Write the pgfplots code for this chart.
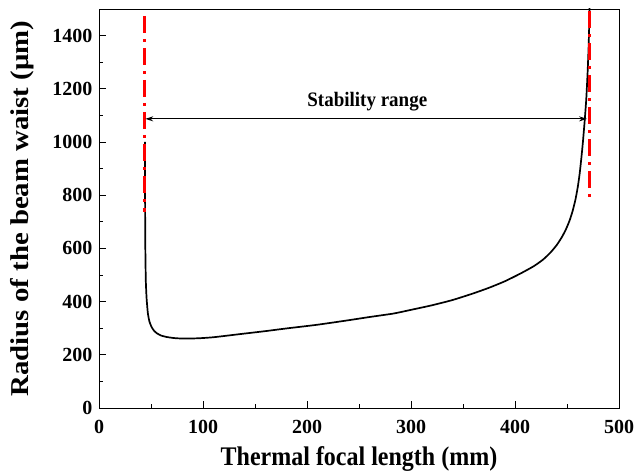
\documentclass[border=0pt]{standalone}
\usepackage{fontspec}
\setmainfont{Liberation Serif}
\usepackage{pgfplots}
\pgfplotsset{compat=1.18}
\usetikzlibrary{arrows.meta}
\begin{document}
\begin{tikzpicture}
\begin{axis}[
  scale only axis,
  width=520pt, height=399pt,
  xmin=0, xmax=500, ymin=0, ymax=1500,
  xtick={0,100,...,500},
  ytick={0,200,...,1400},
  minor tick num=1,
  xtick pos=bottom, ytick pos=left,
  tick align=inside,
  major tick length=7pt, minor tick length=4pt,
  axis line style={line width=0.9pt},
  every tick/.style={line width=0.9pt, black},
  tick label style={font=\fontsize{20}{22}\selectfont\bfseries},
  xticklabel style={yshift=-9pt},
  yticklabel style={xshift=-3pt},
  /pgf/number format/assume math mode=true,
  /pgf/number format/1000 sep={},
  xlabel={Thermal focal length (mm)},
  ylabel={Radius of the beam waist (μm)},
  label style={font=\fontsize{24}{26}\selectfont\bfseries},
  xlabel style={at={(axis description cs:0.5,0)}, anchor=center, yshift=-51pt, yscale=1.12},
  ylabel style={at={(axis description cs:0,0.5)}, anchor=center, yshift=77pt, xscale=1.2, yscale=1.07},
  clip=true,
]
\addplot[black, line width=1.7pt, smooth, tension=0.35] coordinates {
(44.2,1000) (44.3,800) (44.5,620) (45.0,480) (45.8,410) (47.0,356) (48.5,325)
(50.5,305) (53.0,290) (56.0,280) (60.0,272) (65.0,267) (72.0,263) (81.0,261)
(95.0,262) (110.0,266) (136.0,278) (160.0,289) (180.0,299) (210.0,313)
(240.0,330) (260.0,342) (283.0,355) (300.0,369) (320.0,386) (340.0,406)
(360.0,431) (375.0,452) (390.0,476) (405.0,505) (418.0,533) (427.0,558)
(434.0,584) (440.0,612) (445.0,642) (449.0,672) (452.5,705) (455.5,742)
(458.2,785) (460.4,832) (462.2,882) (463.8,940) (465.3,1000) (467.0,1080)
(468.5,1160) (469.8,1260) (470.8,1360) (471.5,1460) (471.8,1520)
};
\addplot[red, line width=3pt, dash pattern=on 17pt off 6pt on 3pt off 6pt] coordinates {(44.2,1474) (44.2,735)};
\addplot[red, line width=3pt, dash pattern=on 17pt off 6pt on 3pt off 6pt] coordinates {(471.6,1492) (471.6,772)};
\addplot[black, line width=1pt, {Stealth[length=8pt,width=5pt]}-{Stealth[length=8pt,width=5pt]}] coordinates {(44.5,1087) (469.3,1087)};
\node[font=\fontsize{19}{21}\selectfont\bfseries, yscale=1.08] at (axis cs:258,1150) {Stability range};
\end{axis}
\pgfresetboundingbox
\path (current axis.south west) ++(-99pt,-67pt) coordinate (bl);
\path (current axis.north east) ++(16pt,9pt) coordinate (tr);
\path (bl) rectangle (tr);
\end{tikzpicture}
\end{document}
